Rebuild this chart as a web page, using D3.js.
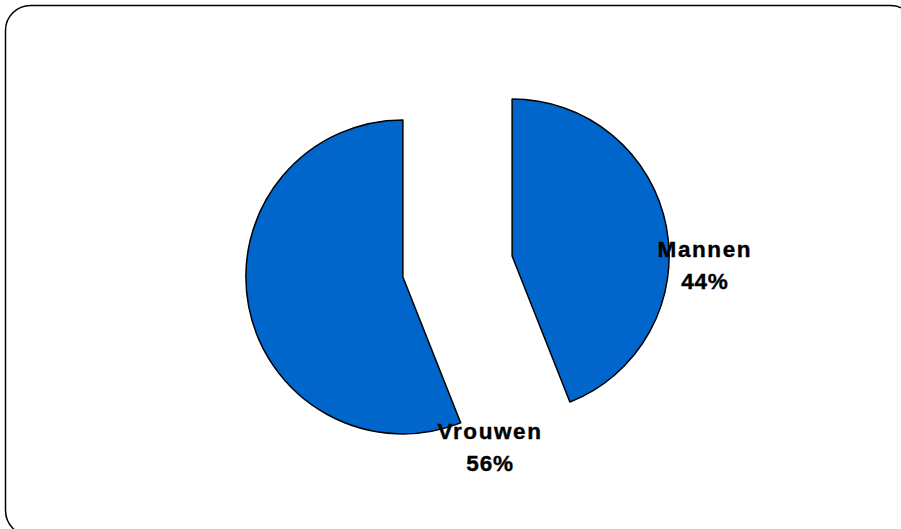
<!DOCTYPE html>
<html>
<head>
<meta charset="utf-8">
<script src="https://cdn.jsdelivr.net/npm/d3@7"></script>
<style>
  html, body { margin: 0; padding: 0; background: #ffffff; }
  svg { display: block; }
</style>
</head>
<body>
<svg id="chart" width="901" height="529"></svg>
<script>
// Data
const categories = ["Mannen", "Vrouwen"];
const values = [44, 56];
const valueLabels = ["44%", "56%"];

const svg = d3.select("#chart");

// Frame (rounded rectangle, partially clipped on right/bottom)
svg.append("rect")
  .attr("x", 5.5).attr("y", 5.5)
  .attr("width", 910).attr("height", 530)
  .attr("rx", 25).attr("ry", 25)
  .attr("fill", "#ffffff")
  .attr("stroke", "#000000")
  .attr("stroke-width", 1.5);

const cx = 457.5, cy = 266.5;
const radius = 157;
const explode = 55.6;

const pie = d3.pie().sort(null).value(d => d.value);
const arcs = pie(categories.map((c, i) => ({ name: c, value: values[i], label: valueLabels[i] })));
const arc = d3.arc().innerRadius(0).outerRadius(radius);

const g = svg.append("g").attr("transform", `translate(${cx},${cy})`);

arcs.forEach(a => {
  const mid = (a.startAngle + a.endAngle) / 2;
  a.ox = Math.sin(mid) * explode;
  a.oy = -Math.cos(mid) * explode;
});

g.selectAll("path.slice")
  .data(arcs)
  .join("path")
  .attr("class", "slice")
  .attr("transform", d => `translate(${d.ox},${d.oy})`)
  .attr("d", arc)
  .attr("fill", "#0066CC")
  .attr("stroke", "#000000")
  .attr("stroke-width", 1.5)
  .attr("stroke-linejoin", "round");

// Label placement (Excel-like best fit), polar offset from each slice's apex
const labelPolar = [
  { angle: 93 * Math.PI / 180, dist: 193 },
  { angle: 153 * Math.PI / 180, dist: 192 }
];

const labels = g.selectAll("g.lbl")
  .data(arcs)
  .join("g")
  .attr("class", "lbl")
  .attr("transform", (d, i) => {
    const p = labelPolar[i];
    const x = d.ox + Math.sin(p.angle) * p.dist;
    const y = d.oy - Math.cos(p.angle) * p.dist;
    return `translate(${x},${y})`;
  });

labels.append("text")
  .attr("text-anchor", "middle")
  .attr("y", -9)
  .attr("font-family", "Liberation Sans, Arial, sans-serif")
  .attr("font-weight", "bold")
  .attr("font-size", 22.5)
  .attr("letter-spacing", 1.6)
  .attr("fill", "#000")
  .attr("stroke", "#000")
  .attr("stroke-width", 0.4)
  .text(d => d.data.name);

labels.append("text")
  .attr("text-anchor", "middle")
  .attr("y", 23)
  .attr("font-family", "Liberation Sans, Arial, sans-serif")
  .attr("font-weight", "bold")
  .attr("font-size", 22.5)
  .attr("letter-spacing", 0.8)
  .attr("fill", "#000")
  .attr("stroke", "#000")
  .attr("stroke-width", 0.4)
  .text(d => d.data.label);
</script>
</body>
</html>
